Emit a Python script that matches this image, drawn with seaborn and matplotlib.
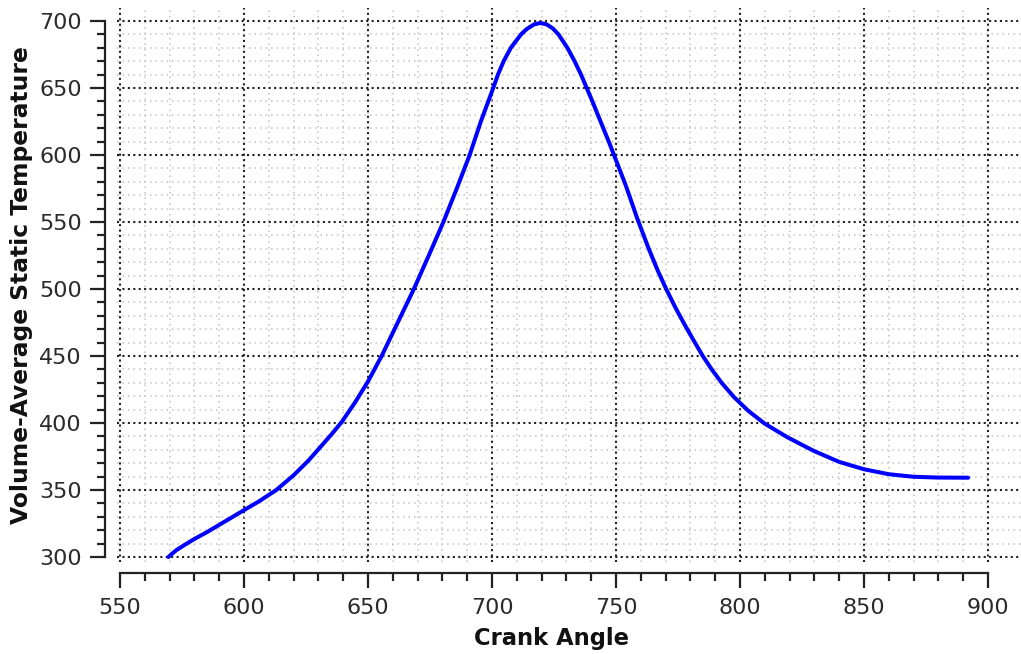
import matplotlib
matplotlib.use("Agg")
import matplotlib.pyplot as plt
import numpy as np
import seaborn as sns
import pandas as pd

# ---- data ----
crank_angle = [569.5, 571, 573, 576, 580, 585, 590, 595, 600, 606, 613, 620,
               626, 631, 635.5, 639.5, 645, 650, 655.5, 662, 668.5, 674.5,
               680.4, 685.8, 691, 695.5, 700.5, 702.4, 704.7, 707.6, 711.7,
               714, 717, 719.5, 722, 724.5, 726.8, 730.4, 733.3, 735.9, 738.2,
               740.6, 742.9, 745.2, 747.3, 749.2, 754, 758.5, 763, 767, 770.5,
               774, 777.5, 781.2, 785, 788.6, 792.6, 797.5, 803.4, 810, 819,
               826.8, 830, 840, 850, 860, 870, 880, 892]
temperature = [300, 302.5, 305.5, 309, 313.5, 318.5, 324, 329.5, 335, 341.5,
               350, 361, 372, 382.5, 392, 401, 416, 431, 450, 475, 500, 525,
               550, 575, 600, 625, 650, 660, 670, 680, 690,
               694, 697.5, 698.5, 697.5, 694.5, 690, 680, 670, 660, 650,
               639.5, 629, 618.5, 609, 600, 577, 553, 531, 513, 499,
               486, 474, 462, 450, 440, 430, 419.5, 409, 399.5, 389.5,
               382, 379, 371, 365.5, 361.8, 359.9, 359.3, 359.2]
x_ticks = [550, 600, 650, 700, 750, 800, 850, 900]
y_ticks = [300, 350, 400, 450, 500, 550, 600, 650, 700]
x_label = "Crank Angle"
y_label = "Volume-Average Static Temperature"

df = pd.DataFrame({x_label: crank_angle, y_label: temperature})

sns.set_style("white")
plt.rcParams["font.family"] = ["DejaVu Sans"]

fig = plt.figure(figsize=(10.21, 6.54), dpi=100)
ax = fig.add_axes([117 / 1021, 1 - 562 / 654, 904 / 1021, 554 / 654])

sns.lineplot(data=df, x=x_label, y=y_label, ax=ax, color="#0000ff",
             linewidth=2.9, sort=False, zorder=5)

ax.set_xlim(548.8, 913.3)
ax.set_ylim(296.3, 709.7)
ax.set_xticks(x_ticks)
ax.set_yticks(y_ticks)
ax.set_xticks([v for v in np.arange(x_ticks[0], x_ticks[-1] + 1, 10) if v not in x_ticks], minor=True)
ax.set_yticks([v for v in np.arange(y_ticks[0], y_ticks[-1] + 1, 10) if v not in y_ticks], minor=True)

# grid
ax.grid(which="minor", color="#c4c4c4", linewidth=1.1, linestyle=(0, (1, 2.6)))
ax.grid(which="major", color="#202020", linewidth=1.5, linestyle=(0, (1, 1.6)))
ax.set_axisbelow(True)

# spines
for s in ["top", "right"]:
    ax.spines[s].set_visible(False)
for s in ["left", "bottom"]:
    ax.spines[s].set_color("#222222")
    ax.spines[s].set_linewidth(1.6)
ax.spines["left"].set_position(("outward", 8.6))
ax.spines["bottom"].set_position(("outward", 7.9))
ax.spines["left"].set_bounds(300, 700)
ax.spines["bottom"].set_bounds(550, 900)

ax.tick_params(which="both", bottom=True, left=True, top=False, right=False)
ax.tick_params(which="major", direction="out", length=10.8, width=1.6,
               color="#222222", labelsize=16, labelcolor="#2a2a2a")
ax.tick_params(which="minor", direction="out", length=6.0, width=1.6,
               color="#222222")
ax.tick_params(axis="y", which="major", pad=6)
ax.tick_params(axis="x", which="major", pad=7)

ax.set_xlabel(x_label, fontsize=16.3, fontweight="bold", color="#111111")
ax.set_ylabel(y_label, fontsize=16.8, fontweight="bold", color="#111111")
ax.xaxis.set_label_coords(0.481, -0.118)
ax.yaxis.set_label_coords(-0.093, 0.5)

fig.savefig("out.png", dpi=100)
